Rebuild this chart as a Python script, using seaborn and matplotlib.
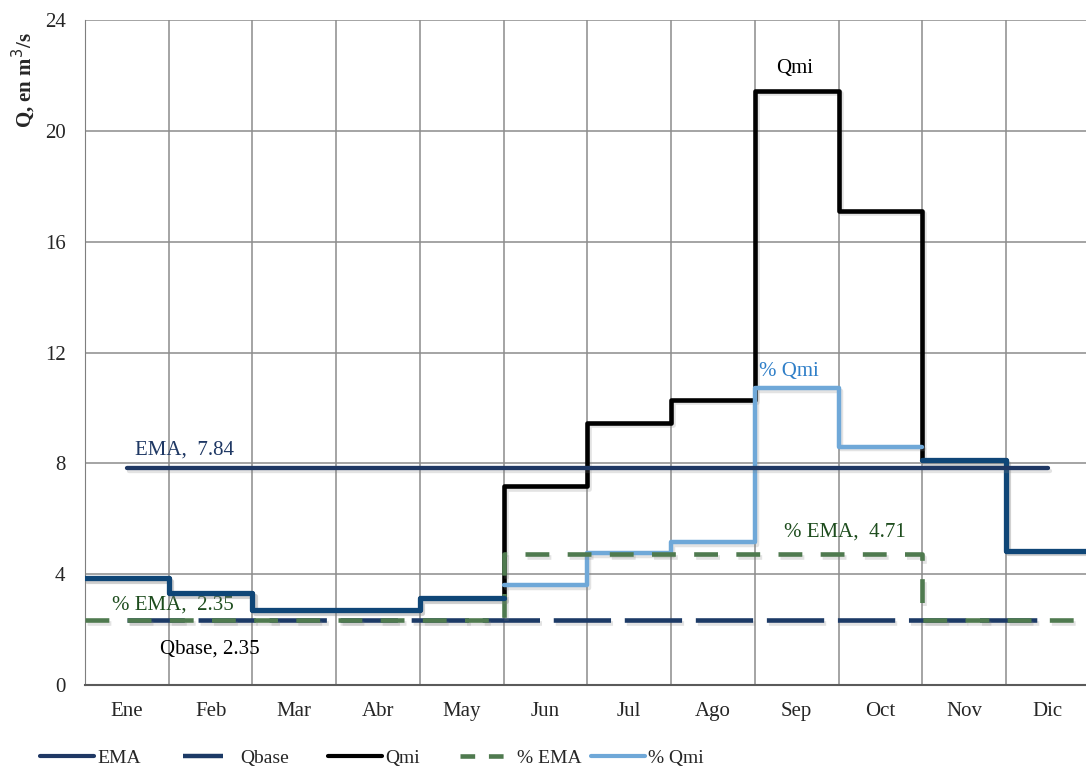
import numpy as np
import pandas as pd
import matplotlib
matplotlib.use("Agg")
import matplotlib.pyplot as plt
import matplotlib.patheffects as pe
from matplotlib.lines import Line2D
import seaborn as sns

# Datos
meses = ["Ene", "Feb", "Mar", "Abr", "May", "Jun", "Jul", "Ago", "Sep", "Oct", "Nov", "Dic"]
qmi = [3.85, 3.31, 2.71, 2.71, 3.13, 7.18, 9.47, 10.3, 21.45, 17.12, 8.12, 4.85]
pct_qmi = [np.nan, np.nan, np.nan, np.nan, np.nan, 3.61, 4.75, 5.15, 10.71, 8.6, np.nan, np.nan]
pct_ema = [2.35, 2.35, 2.35, 2.35, 2.35, 4.71, 4.71, 4.71, 4.71, 4.71, 2.35, 2.35]
ema = 7.84
qbase = 2.35

sns.set_style("white")
plt.rcParams['font.family'] = ['Liberation Serif', 'DejaVu Serif']

x = np.arange(len(meses))
edges = np.arange(len(meses) + 1) - 0.5


def steps(vals, meses_sel):
    # bordes de los meses seleccionados, repitiendo el ultimo valor para cerrar el escalon
    idx = [meses.index(m) for m in meses_sel]
    xs = list(edges[idx]) + [edges[idx[-1] + 1]]
    ys = [vals[i] for i in idx] + [vals[idx[-1]]]
    return pd.DataFrame({"x": xs, "y": ys})


shadow = [pe.SimpleLineShadow(offset=(1.5, -2), shadow_color="gray", alpha=0.22), pe.Normal()]

fig = plt.figure(figsize=(10.86, 7.69), dpi=100)
ax = fig.add_axes([85 / 1086, 1 - 685 / 769, 1 - 85 / 1086, (685 - 20) / 769])

# grilla
ax.set_xticks(edges, minor=True)
ax.grid(which="minor", axis="x", color="#8c8c8c", lw=1.1, zorder=0)
ax.grid(which="major", axis="y", color="#8c8c8c", lw=1.1, zorder=0)

c_ema = "#1f3864"
c_qbase = "#1c3a66"
c_dark = "#0f4677"
c_light = "#6fa8d8"
c_green = "#4f7a4f"

# Qbase
d = pd.DataFrame({"x": x, "y": [qbase] * len(meses)})
sns.lineplot(data=d, x="x", y="y", ax=ax, color=c_qbase, lw=3.3, linestyle=(0, (12.5, 3)),
             zorder=3, path_effects=shadow)

# Qmi (negro)
d = steps(qmi, meses)
sns.lineplot(data=d, x="x", y="y", ax=ax, drawstyle="steps-post", color="black", lw=3.3,
             zorder=4, path_effects=shadow, sort=False)

# % Qmi (azul claro)
d = steps(pct_qmi, meses[5:10])
sns.lineplot(data=d, x="x", y="y", ax=ax, drawstyle="steps-post", color=c_light, lw=3.2,
             zorder=4.2, path_effects=shadow, sort=False)

# % EMA (verde discontinua)
d = steps(pct_ema, meses)
sns.lineplot(data=d, x="x", y="y", ax=ax, drawstyle="steps-post", color=c_green, lw=3.3,
             linestyle=(0, (5.2, 4)), zorder=4.5, path_effects=shadow, sort=False)

# Qmi en meses secos (azul oscuro)
for tramo in (meses[0:5], meses[10:12]):
    d = steps(qmi, tramo)
    sns.lineplot(data=d, x="x", y="y", ax=ax, drawstyle="steps-post", color=c_dark, lw=3.8,
                 zorder=5, path_effects=shadow, sort=False)

# EMA
d = pd.DataFrame({"x": x, "y": [ema] * len(meses)})
sns.lineplot(data=d, x="x", y="y", ax=ax, color=c_ema, lw=3.1, zorder=6, path_effects=shadow,
             solid_capstyle="round")

# etiquetas
fs = 15
ax.text(0.1, ema + 0.3, f"EMA,  {ema}", color=c_ema, fontsize=fs, va="bottom")
ax.text(7.75, 21.45 + 0.45, "Qmi", color="black", fontsize=fs, va="bottom")
ax.text(7.55, 10.71 + 0.25, "% Qmi", color="#2f7fc8", fontsize=fs, va="bottom")
ax.text(7.85, 4.71 + 0.45, f"% EMA,  {pct_ema[5]}", color="#1e4d1e", fontsize=fs, va="bottom")
ax.text(-0.18, pct_ema[0] + 0.2, f"% EMA,  {pct_ema[0]}", color="#1e4d1e", fontsize=fs, va="bottom")
ax.text(0.4, qbase - 0.7, f"Qbase, {qbase}", color="black", fontsize=fs, va="top")

ax.set_xlim(-0.5, 11.455)
ax.set_ylim(0, 24)
ax.set_yticks(np.arange(0, 25, 4))
ax.set_xticks(x)
ax.set_xticklabels(meses)
ax.tick_params(axis="both", labelsize=15, length=0)
ax.tick_params(axis="x", pad=12)
ax.tick_params(axis="y", pad=14)
ax.set_xlabel("")
ax.set_ylabel("Q, en m$^3$/s", fontsize=15, fontweight="bold")
ax.yaxis.set_label_coords(-0.047, 0.91)
for s in ["top", "right"]:
    ax.spines[s].set_visible(False)
ax.spines["left"].set_color("#7f7f7f")
ax.spines["bottom"].set_color("#5a5a5a")
ax.spines["bottom"].set_linewidth(1.5)

# leyenda, una entrada por posicion
handles = [
    Line2D([], [], color=c_ema, lw=3),
    Line2D([], [], color=c_qbase, lw=3.2, linestyle=(0, (9, 20))),
    Line2D([], [], color="black", lw=3),
    Line2D([], [], color=c_green, lw=3.3, linestyle=(0, (3.2, 3))),
    Line2D([], [], color=c_light, lw=3),
]
labels = ["EMA", "Qbase", "Qmi", "% EMA", "% Qmi"]
inicio = [40, 183, 328, 460, 591]
for h, l, px in zip(handles, labels, inicio):
    fig.legend([h], [l], loc="center left", bbox_to_anchor=(px / 1086, 1 - 758 / 769),
               frameon=False, fontsize=14, handlelength=2.8, handletextpad=0.15,
               borderpad=0, borderaxespad=0)

fig.savefig("out.png", dpi=100)
